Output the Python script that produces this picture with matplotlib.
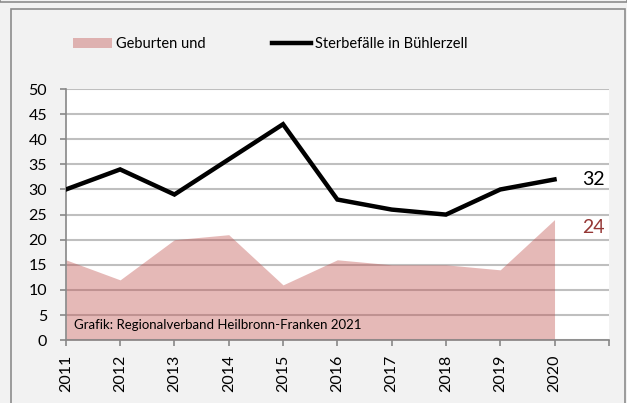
import matplotlib.pyplot as plt
from matplotlib.patches import Rectangle
from matplotlib.lines import Line2D

plt.rcParams['font.family'] = ['Lato', 'DejaVu Sans']

jahre = ['2011', '2012', '2013', '2014', '2015', '2016', '2017', '2018', '2019', '2020']
geburten = [16, 12, 20, 21, 11, 16, 15, 15, 14, 24]
sterbefaelle = [30, 34, 29, 36, 43, 28, 26, 25, 30, 32]

fig = plt.figure(figsize=(6.27, 4.03), dpi=100, facecolor='#f2f2f2')
ax = fig.add_axes([0.105, 0.156, 0.866, 0.623])
ax.set_facecolor('white')

x = list(range(len(jahre)))

# Gitterlinien
ax.set_ylim(0, 50)
ax.set_xlim(0, 10)
ax.set_yticks(range(0, 51, 5))
ax.yaxis.grid(True, color='#bfbfbf', linewidth=1.5, zorder=1)
ax.set_axisbelow(True)

# Fläche Geburten
ax.fill_between(x, geburten, 0, color='#c0504d', alpha=0.4, linewidth=0, zorder=2)
# Linie Sterbefälle
ax.plot(x, sterbefaelle, color='black', linewidth=3.2, zorder=3,
        solid_joinstyle='miter')

ax.text(x[-1] + 0.5, sterbefaelle[-1], str(sterbefaelle[-1]), color='black',
        fontsize=14, va='center', ha='left')
ax.text(x[-1] + 0.5, geburten[-1] - 1.5, str(geburten[-1]), color='#953735',
        fontsize=14, va='center', ha='left')

ax.text(0.15, 2.3, 'Grafik: Regionalverband Heilbronn-Franken 2021', fontsize=9.5,
        color='black', zorder=4)

ax.set_xticks(range(0, 11))
ax.set_xticklabels(jahre + [''], rotation=90, fontsize=11.5)
ax.tick_params(axis='y', labelsize=11.5, length=4.5, color='#888888', width=1.2, pad=9)
ax.tick_params(axis='x', length=4.5, color='#888888', width=1.2, pad=6)

for side in ['top', 'right']:
    ax.spines[side].set_visible(False)
for side in ['left', 'bottom']:
    ax.spines[side].set_color('#888888')
    ax.spines[side].set_linewidth(1.2)

# Legende
handles = [Rectangle((0, 0), 1, 1, color='#c0504d', alpha=0.4, linewidth=0),
           Line2D([0], [0], color='black', linewidth=3.2)]
fig.legend(handles, ['Geburten und', 'Sterbefälle in Bühlerzell'],
           loc='center left', bbox_to_anchor=(73 / 627, 1 - 44 / 403), ncol=2,
           frameon=False, fontsize=10.5, handlelength=2.7, handletextpad=0.27,
           columnspacing=4.5, handleheight=0.75, borderpad=0, borderaxespad=0)

# Rahmen
fig.patches.append(Rectangle((11 / 627, -0.05), 614 / 627, 1 - 9 / 403 + 0.05,
                             transform=fig.transFigure, fill=False,
                             edgecolor='#8c8c8c', linewidth=1.2))
fig.patches.append(Rectangle((0, 1 - 2 / 403), 1, 0.1, transform=fig.transFigure,
                             fill=False, edgecolor='#8c8c8c', linewidth=1.2))

fig.savefig('out.png', dpi=100, facecolor=fig.get_facecolor())
